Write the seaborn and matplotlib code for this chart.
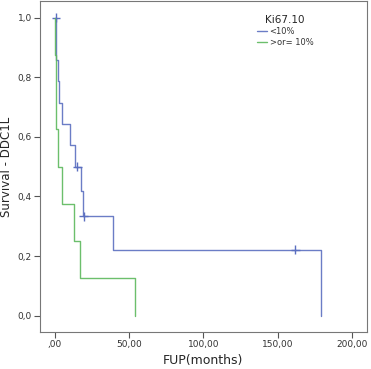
import pandas as pd
import seaborn as sns
import matplotlib.pyplot as plt

# Kaplan-Meier steps
blue_time = [0, 1, 2, 3, 4.5, 10, 13.5, 17.3, 19, 39, 179]
blue_surv = [1.0, 0.857, 0.786, 0.714, 0.643, 0.571, 0.5, 0.417, 0.333, 0.222, 0.0]
green_time = [0, 0.3, 0.5, 1.0, 1.8, 4.7, 12.6, 17, 54]
green_surv = [1.0, 0.875, 0.75, 0.625, 0.5, 0.375, 0.25, 0.125, 0.0]

# censored cases
blue_cens_time = [0.7, 15, 19.5, 162]
blue_cens_surv = [1.0, 0.5, 0.333, 0.222]

groups = ['<10%', '>or= 10%']
colors = {'<10%': '#5b6fc0', '>or= 10%': '#5cb85c'}
x_ticks = [0, 50, 100, 150, 200]
x_ticklabels = [',00', '50,00', '100,00', '150,00', '200,00']
y_ticks = [0, 0.2, 0.4, 0.6, 0.8, 1.0]
y_ticklabels = ['0,0', '0,2', '0,4', '0,6', '0,8', '1,0']

df = pd.concat([
    pd.DataFrame({'time': blue_time, 'surv': blue_surv, 'group': groups[0]}),
    pd.DataFrame({'time': green_time, 'surv': green_surv, 'group': groups[1]}),
])
cens = pd.DataFrame({'time': blue_cens_time, 'surv': blue_cens_surv, 'group': groups[0]})

sns.set_style('white')
plt.rcParams['font.family'] = ['DejaVu Sans']

fig = plt.figure(figsize=(3.71, 3.69), dpi=100)
ax = fig.add_axes([0.108, 0.100, 0.880, 0.897])

sns.lineplot(data=df, x='time', y='surv', hue='group', palette=colors,
             drawstyle='steps-post', estimator=None, sort=False,
             linewidth=1.0, alpha=0.9, ax=ax)
sns.scatterplot(data=cens, x='time', y='surv', hue='group', palette=colors,
                marker='+', s=40, linewidth=1.0, legend=False, ax=ax)

ax.set_xlim(-10, 210)
ax.set_ylim(-0.055, 1.055)
ax.set_xticks(x_ticks)
ax.set_xticklabels(x_ticklabels)
ax.set_yticks(y_ticks)
ax.set_yticklabels(y_ticklabels)
ax.tick_params(axis='both', which='both', direction='out', length=4, width=0.8,
               color='#555555', labelsize=6.5, labelcolor='#333333',
               left=True, bottom=True, pad=2)
for s in ax.spines.values():
    s.set_color('#777777')
    s.set_linewidth(0.8)

ax.set_xlabel('FUP(months)', fontsize=9, labelpad=3)
ax.set_ylabel('Survival - DDC1L', fontsize=8.5, labelpad=3)

leg = ax.legend(title='Ki67.10', loc='upper right', bbox_to_anchor=(0.86, 0.98),
                frameon=False, fontsize=6, title_fontsize=7.5,
                handlelength=1.2, handletextpad=0.3, labelspacing=0.2)
leg._legend_box.align = 'center'
for t in leg.get_texts():
    t.set_color('#333333')

fig.savefig('out.png', dpi=100)
